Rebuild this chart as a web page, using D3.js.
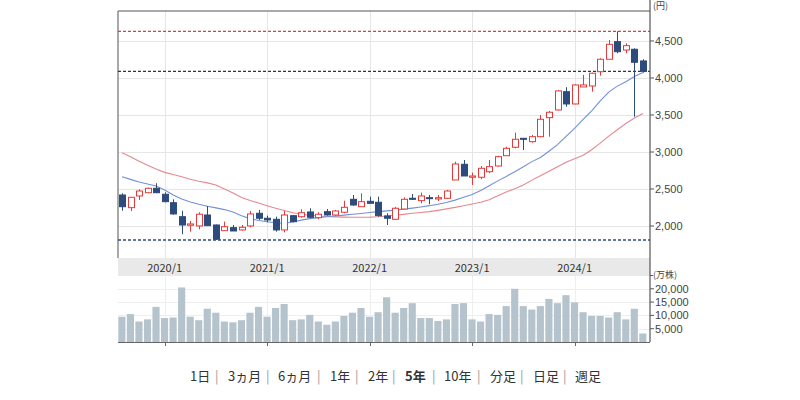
<!DOCTYPE html>
<html><head><meta charset="utf-8">
<script src="https://cdn.jsdelivr.net/npm/d3@7"></script>
<style>
html,body{margin:0;padding:0;background:#fff;}
svg{display:block;font-family:"Noto Sans CJK JP","Noto Sans",sans-serif;}
</style></head>
<body><svg id="c" width="800" height="400"></svg>
<script>
const months = ["2019/8","2019/9","2019/10","2019/11","2019/12",
"2020/1","2020/2","2020/3","2020/4","2020/5","2020/6","2020/7","2020/8","2020/9","2020/10","2020/11","2020/12",
"2021/1","2021/2","2021/3","2021/4","2021/5","2021/6","2021/7","2021/8","2021/9","2021/10","2021/11","2021/12",
"2022/1","2022/2","2022/3","2022/4","2022/5","2022/6","2022/7","2022/8","2022/9","2022/10","2022/11","2022/12",
"2023/1","2023/2","2023/3","2023/4","2023/5","2023/6","2023/7","2023/8","2023/9","2023/10","2023/11","2023/12",
"2024/1","2024/2","2024/3","2024/4","2024/5","2024/6","2024/7","2024/8","2024/9"];
const open  = [2419,2248,2406,2450,2510,2429,2315,2126,2010,2001,2149,2014,1937,1978,1947,2001,2172,2105,2091,1947,2140,2126,2190,2113,2194,2149,2186,2361,2261,2334,2321,2136,2091,2230,2375,2343,2383,2365,2375,2622,2834,2659,2659,2734,2811,2950,3064,3185,3140,3207,3464,3568,3815,3649,3879,3892,4085,4253,4491,4378,4388,4230];
const high  = [2442,2390,2496,2518,2578,2456,2361,2207,2068,2186,2271,2020,2059,2014,2014,2203,2217,2140,2126,2203,2150,2226,2240,2186,2230,2217,2342,2419,2442,2397,2397,2172,2258,2388,2433,2451,2419,2419,2487,2869,2892,2721,2811,2892,2950,3072,3261,3190,3230,3500,3554,3838,3875,3915,4041,4072,4266,4514,4631,4469,4401,4253];
const low   = [2207,2203,2352,2445,2445,2321,2153,1889,1924,1956,2000,1811,1937,1933,1937,1985,2082,2051,1924,1916,2050,2113,2105,2091,2140,2140,2172,2275,2261,2298,2126,2014,2082,2230,2352,2307,2294,2338,2365,2622,2676,2555,2632,2713,2802,2946,3050,3027,3126,3199,3207,3558,3612,3645,3879,3815,4031,4253,4334,4334,3477,4072];
const close = [2261,2388,2473,2510,2450,2329,2163,2014,2028,2159,2005,1822,1991,1933,1983,2163,2105,2082,1947,2149,2059,2180,2118,2159,2149,2203,2253,2284,2329,2307,2140,2105,2240,2361,2361,2406,2370,2383,2473,2838,2676,2676,2780,2802,2937,3050,3172,3172,3207,3442,3537,3825,3649,3906,3906,4064,4253,4455,4355,4437,4212,4090];
const maShort = [2667,2630,2595,2568,2540,2487,2420,2365,2325,2295,2268,2245,2222,2190,2140,2100,2075,2058,2045,2038,2055,2080,2100,2113,2125,2135,2147,2160,2170,2182,2194,2205,2215,2228,2242,2258,2275,2295,2318,2350,2390,2425,2480,2545,2610,2670,2734,2800,2870,2925,3010,3100,3210,3320,3440,3555,3690,3810,3890,3950,4020,4075];
const maLong  = [2991,2935,2875,2820,2770,2725,2695,2665,2632,2605,2583,2555,2500,2445,2385,2345,2310,2275,2240,2210,2180,2160,2145,2135,2128,2124,2120,2118,2118,2120,2125,2135,2145,2158,2172,2183,2194,2212,2232,2252,2275,2297,2320,2355,2410,2460,2505,2555,2620,2680,2740,2800,2860,2910,2955,3030,3120,3215,3300,3385,3460,3520];
const volume  = [9500,10500,7700,8500,13200,9000,9200,20500,9500,8200,12500,11000,7700,7400,8200,11000,13200,9500,12800,14300,8200,8500,10200,7700,6500,7700,9800,11000,12800,9500,11200,16800,11000,12800,14600,9000,9000,7900,8500,14300,14600,8500,7700,10500,10200,13500,20000,13500,12200,13500,16200,14600,17600,14900,11200,9800,9800,9200,11200,8500,12500,3200];
const priceTicks = [2000,2500,3000,3500,4000,4500];
const volTicks = [5000,10000,15000,20000];
const yearLabels = ["2020/1","2021/1","2022/1","2023/1","2024/1"];
const navItems = ["1日","3ヵ月","6ヵ月","1年","2年","5年","10年","分足","日足","週足"];
const navActive = "5年";

const svg = d3.select("#c");
const L = 118, R = 650;
const numFont = "'Liberation Sans','DejaVu Sans',sans-serif";
const x = d3.scaleBand().domain(months).range([117.7, 647.2]).padding(0);
const y = d3.scaleLinear().domain([1568, 4905]).range([258, 11]);
const yv = d3.scaleLinear().domain([0, 25000]).range([342, 275.5]);
const cx = m => x(m) + x.bandwidth()/2;
const fmt = d3.format(",");

// grid - price
const g = svg.append("g");
g.selectAll(".hg").data(priceTicks).join("line")
  .attr("x1", L).attr("x2", R).attr("y1", d=>Math.round(y(d))+0.5).attr("y2", d=>Math.round(y(d))+0.5)
  .attr("stroke", "#e6e6e6");
g.selectAll(".vg").data(yearLabels).join("line")
  .attr("x1", d=>Math.round(cx(d))+0.5).attr("x2", d=>Math.round(cx(d))+0.5)
  .attr("y1", 11).attr("y2", 258).attr("stroke", "#e6e6e6");
// grid - volume
g.selectAll(".hgv").data(volTicks).join("line")
  .attr("x1", L).attr("x2", R).attr("y1", d=>Math.round(yv(d))+0.5).attr("y2", d=>Math.round(yv(d))+0.5)
  .attr("stroke", "#eeeeee");
g.selectAll(".vgv").data(yearLabels).join("line")
  .attr("x1", d=>Math.round(cx(d))+0.5).attr("x2", d=>Math.round(cx(d))+0.5)
  .attr("y1", 276).attr("y2", 342).attr("stroke", "#eeeeee");

// borders
svg.append("line").attr("x1", L).attr("x2", R).attr("y1", 11).attr("y2", 11).attr("stroke", "#8c8c8c").attr("stroke-width", 1.5);
svg.append("line").attr("x1", L).attr("x2", L).attr("y1", 11).attr("y2", 258).attr("stroke", "#6f6f6f").attr("stroke-width", 1.2);

// band
svg.append("rect").attr("x", L).attr("y", 258).attr("width", R-L).attr("height", 18).attr("fill", "#e9e9e9");
svg.selectAll(".yl").data(yearLabels).join("text")
  .attr("x", d=>cx(d)).attr("y", 271.5).attr("text-anchor", "middle")
  .attr("font-size", 11).attr("fill", "#333").text(d=>d);

// volume bars
svg.selectAll(".vb").data(months).join("rect")
  .attr("x", d=>x(d)+0.6).attr("width", x.bandwidth()-1.4)
  .attr("y", (d,i)=>yv(volume[i])).attr("height", (d,i)=>yv(0)-yv(volume[i]))
  .attr("fill", "#b5c3cc");

// moving averages
const line = d3.line().x(d=>d[0]).y(d=>d[1]);
svg.append("path").attr("d", line(months.map((m,i)=>[cx(m), y(maLong[i])])))
  .attr("fill","none").attr("stroke","#e58890").attr("stroke-width",1.1);
svg.append("path").attr("d", line(months.map((m,i)=>[cx(m), y(maShort[i])])))
  .attr("fill","none").attr("stroke","#7191d6").attr("stroke-width",1.1);

// reference dashed lines
const refLines = [
  {v: d3.max(high), c: "#e33a3e"},
  {v: close[close.length-1], c: "#333"},
  {v: d3.min(low), c: "#2e4b7d"}
];
svg.selectAll(".rl").data(refLines).join("line")
  .attr("x1", L).attr("x2", R).attr("y1", d=>y(d.v)).attr("y2", d=>y(d.v))
  .attr("stroke", d=>d.c).attr("stroke-width", 1.3).attr("stroke-dasharray", "3,2");

// candles
const up = "#e53a3a", dn = "#2d4b7c";
const cg = svg.append("g");
months.forEach((m,i)=>{
  const isUp = close[i] >= open[i];
  const col = isUp ? up : dn;
  const c = Math.round(cx(m)) + 0.5;
  cg.append("line").attr("x1", c).attr("x2", c).attr("y1", y(high[i])).attr("y2", y(low[i]))
    .attr("stroke", col).attr("stroke-width", 1);
  const top = y(Math.max(open[i], close[i])), bot = y(Math.min(open[i], close[i]));
  cg.append("rect").attr("x", c-3).attr("width", 6)
    .attr("y", top).attr("height", Math.max(bot-top, 1))
    .attr("fill", isUp ? "#fff" : dn).attr("stroke", col).attr("stroke-width", 1);
});

// right axis
svg.append("line").attr("x1", R).attr("x2", R).attr("y1", 0).attr("y2", 342).attr("stroke", "#555").attr("stroke-width", 1.2);
svg.selectAll(".pt").data(priceTicks).join("line")
  .attr("x1", R).attr("x2", R+4).attr("y1", d=>y(d)).attr("y2", d=>y(d)).attr("stroke", "#555");
svg.selectAll(".ptl").data(priceTicks).join("text")
  .attr("x", R+5).attr("y", d=>y(d)).attr("dy", "0.36em").style("font-family", numFont)
  .attr("font-size", 11).attr("fill", "#444").text(d=>fmt(d));
svg.append("text").attr("x", R+3).attr("y", 9).attr("font-size", 9).attr("fill", "#444").text("(円)");

svg.selectAll(".vt").data(volTicks).join("line")
  .attr("x1", R).attr("x2", R+4).attr("y1", d=>yv(d)).attr("y2", d=>yv(d)).attr("stroke", "#555");
svg.selectAll(".vtl").data(volTicks).join("text")
  .attr("x", R+5).attr("y", d=>yv(d)).attr("dy", "0.36em").style("font-family", numFont)
  .attr("font-size", 11).attr("fill", "#444").text(d=>fmt(d));
svg.append("line").attr("x1", R).attr("x2", R+3).attr("y1", yv(25000)).attr("y2", yv(25000)).attr("stroke", "#555");
svg.append("text").attr("x", R+3).attr("y", yv(25000)-1).attr("dy", "0.36em").attr("font-size", 9).attr("fill", "#444").text("(万株)");

// bottom axis
svg.append("line").attr("x1", L).attr("x2", R).attr("y1", 342.5).attr("y2", 342.5).attr("stroke", "#666");
svg.selectAll(".bt").data(yearLabels).join("line")
  .attr("x1", d=>Math.round(cx(d))+0.5).attr("x2", d=>Math.round(cx(d))+0.5)
  .attr("y1", 342).attr("y2", 346).attr("stroke", "#666");

// nav
const navX = [190, 228, 278, 330, 368, 405, 444, 490, 533, 575];
const sepX = [215, 266, 317, 355, 392, 432, 477, 520, 563];
svg.selectAll(".nv").data(navItems).join("text")
  .attr("x", (d,i)=>navX[i]).attr("y", 381)
  .attr("font-size", 13).attr("fill", "#333")
  .attr("font-weight", d=>d===navActive ? "bold" : "normal").text(d=>d);
svg.selectAll(".sp").data(sepX).join("text")
  .attr("x", d=>d).attr("y", 381).attr("font-size", 13).attr("fill", "#999").text("|");
</script></body></html>
